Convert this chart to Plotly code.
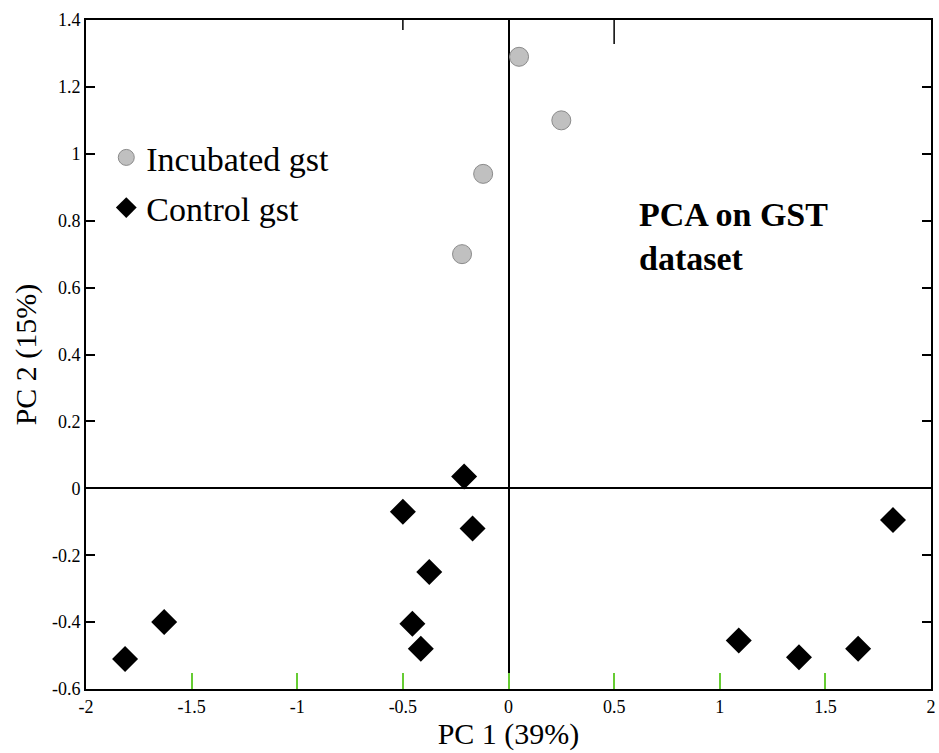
import plotly.graph_objects as go

# Data
incubated_x = [0.05, 0.25, -0.12, -0.22]
incubated_y = [1.29, 1.10, 0.94, 0.70]

control_x = [-0.21, -0.50, -0.17, -0.375, -0.455, -0.415, -1.63, -1.815, 1.09, 1.375, 1.655, 1.82]
control_y = [0.035, -0.07, -0.12, -0.25, -0.405, -0.48, -0.40, -0.51, -0.455, -0.505, -0.48, -0.095]

x_ticks = [-2, -1.5, -1, -0.5, 0, 0.5, 1, 1.5, 2]
x_ticktext = ["-2", "-1.5", "-1", "-0.5", "0", "0.5", "1", "1.5", "2"]
y_ticks = [-0.6, -0.4, -0.2, 0, 0.2, 0.4, 0.6, 0.8, 1, 1.2, 1.4]
y_ticktext = ["-0.6", "-0.4", "-0.2", "0", "0.2", "0.4", "0.6", "0.8", "1", "1.2", "1.4"]
top_tick_x = [-0.5, 0.5]
top_tick_len = [10, 24]

FONT = "'Liberation Serif', 'Times New Roman', Times, serif"

fig = go.Figure()
fig.add_trace(go.Scatter(
    x=incubated_x, y=incubated_y, mode="markers", name="Incubated gst",
    marker=dict(symbol="circle", size=19, color="#c0c0c0",
                line=dict(color="#8a8a8a", width=1)),
    legend="legend",
))
fig.add_trace(go.Scatter(
    x=control_x, y=control_y, mode="markers", name="Control gst",
    marker=dict(symbol="diamond", size=20, color="black",
                line=dict(color="black", width=0)),
    legend="legend2",
))

plot_h = 753 - 20 - 64
shapes = []
for tx, tl in zip(top_tick_x, top_tick_len):
    shapes.append(dict(type="line", xref="x", yref="paper", x0=tx, x1=tx,
                       y0=1, y1=1 - tl / plot_h, line=dict(color="black", width=1.5)))

fig.update_layout(
    width=939, height=753,
    margin=dict(l=86, r=3, t=20, b=64),
    paper_bgcolor="white", plot_bgcolor="white",
    font=dict(family=FONT, color="black", size=18),
    showlegend=True,
    legend=dict(x=0.024, y=0.794, xanchor="left", yanchor="middle",
                font=dict(family=FONT, size=34, color="black"),
                bgcolor="rgba(0,0,0,0)", borderwidth=0),
    legend2=dict(x=0.024, y=0.719, xanchor="left", yanchor="middle",
                 font=dict(family=FONT, size=34, color="black"),
                 bgcolor="rgba(0,0,0,0)", borderwidth=0),
    xaxis=dict(
        range=[-2, 2], tickvals=x_ticks, ticktext=x_ticktext,
        ticks="inside", ticklen=16, tickwidth=1.5, tickcolor="#66cc33",
        showline=True, linecolor="black", linewidth=2, mirror=True,
        showgrid=False, zeroline=True, zerolinecolor="black", zerolinewidth=1.5,
        tickfont=dict(family=FONT, size=18, color="black"),
        title=dict(text="PC 1 (39%)", font=dict(family=FONT, size=30, color="black"), standoff=6),
    ),
    yaxis=dict(
        range=[-0.6, 1.4], tickvals=y_ticks, ticktext=y_ticktext,
        ticks="inside", ticklen=9, tickwidth=2, tickcolor="black",
        showline=True, linecolor="black", linewidth=2, mirror="ticks",
        showgrid=False, zeroline=True, zerolinecolor="black", zerolinewidth=1.5,
        tickfont=dict(family=FONT, size=18, color="black"),
        title=dict(text="PC 2 (15%)", font=dict(family=FONT, size=30, color="black"), standoff=6),
    ),
    shapes=shapes,
    annotations=[dict(
        text="PCA on GST<br>dataset", xref="paper", yref="paper",
        x=(640 - 86) / 850, y=(689 - 194) / plot_h, xanchor="left", yanchor="top",
        align="left", showarrow=False,
        font=dict(family=FONT, size=34, color="black", weight="bold"),
    )],
)

fig.write_html("out.html")
